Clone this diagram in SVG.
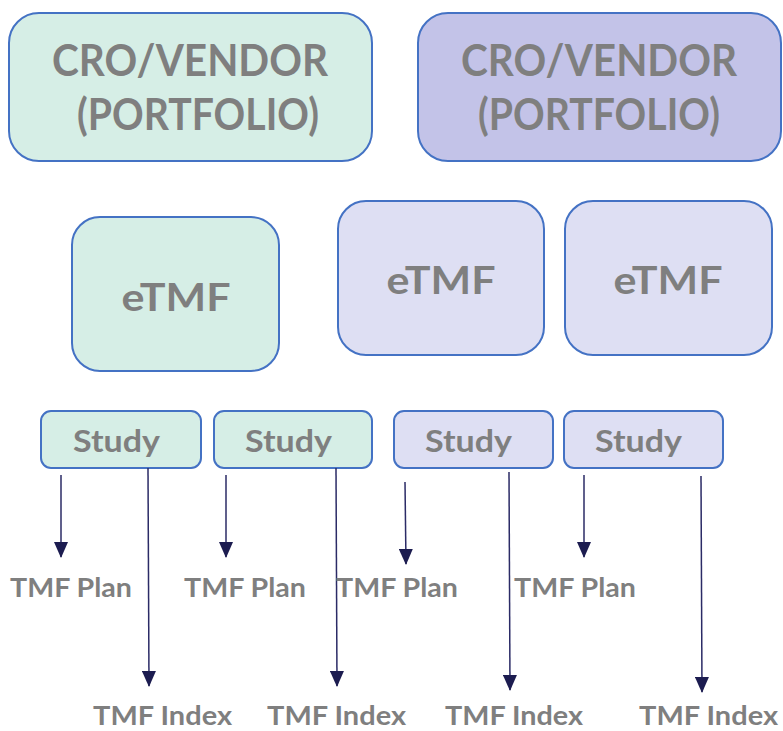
<svg xmlns="http://www.w3.org/2000/svg" width="783" height="731" viewBox="0 0 783 731">
<style>
.t{font-family:Lato,"Open Sans","Liberation Sans",sans-serif;font-weight:bold;fill:#7f7f7f}
.box{stroke:#4472c4;stroke-width:2}
.g{fill:#d6eee6}.p{fill:#c3c3e8}.l{fill:#dedff3}
.c{stroke:#2b2b66;stroke-width:1.5;fill:none}
</style>
<defs>
<marker id="ah" markerWidth="16" markerHeight="14" refX="15" refY="7" orient="auto" markerUnits="userSpaceOnUse" viewBox="0 0 16 14">
<path d="M0,0 L16,7 L0,14 z" fill="#1c1c50"/>
</marker>
</defs>
<rect width="783" height="731" fill="#fff"/>
<g id="cro1"><rect class="box g" x="9" y="13" width="363" height="148" rx="30"/>
<text class="t" x="190" y="76" font-size="43" text-anchor="middle" textLength="276" lengthAdjust="spacingAndGlyphs">CRO/VENDOR</text>
<text class="t" x="198" y="130" font-size="43" text-anchor="middle" textLength="242" lengthAdjust="spacingAndGlyphs">(PORTFOLIO)</text></g>
<g id="cro2"><rect class="box p" x="418" y="13" width="363" height="148" rx="30"/>
<text class="t" x="599" y="76" font-size="43" text-anchor="middle" textLength="276" lengthAdjust="spacingAndGlyphs">CRO/VENDOR</text>
<text class="t" x="599" y="130" font-size="43" text-anchor="middle" textLength="242" lengthAdjust="spacingAndGlyphs">(PORTFOLIO)</text></g>
<g id="etmf1"><rect class="box g" x="72" y="217" width="207" height="154" rx="28"/>
<text class="t" x="176" y="311" font-size="39" text-anchor="middle" textLength="109" lengthAdjust="spacingAndGlyphs">eTMF</text></g>
<g id="etmf2"><rect class="box l" x="338" y="201" width="206" height="154" rx="28"/>
<text class="t" x="441" y="294" font-size="39" text-anchor="middle" textLength="109" lengthAdjust="spacingAndGlyphs">eTMF</text></g>
<g id="etmf3"><rect class="box l" x="565" y="201" width="207" height="154" rx="28"/>
<text class="t" x="668" y="294" font-size="39" text-anchor="middle" textLength="109" lengthAdjust="spacingAndGlyphs">eTMF</text></g>
<g id="study1"><rect class="box g" x="41" y="411" width="160" height="57" rx="10"/>
<text class="t" x="73" y="452" font-size="31" textLength="87" lengthAdjust="spacingAndGlyphs">Study</text></g>
<g id="study2"><rect class="box g" x="214" y="411" width="158" height="57" rx="10"/>
<text class="t" x="245" y="452" font-size="31" textLength="87" lengthAdjust="spacingAndGlyphs">Study</text></g>
<g id="study3"><rect class="box l" x="394" y="411" width="159" height="57" rx="10"/>
<text class="t" x="425" y="452" font-size="31" textLength="87" lengthAdjust="spacingAndGlyphs">Study</text></g>
<g id="study4"><rect class="box l" x="564" y="411" width="159" height="57" rx="10"/>
<text class="t" x="595" y="452" font-size="31" textLength="87" lengthAdjust="spacingAndGlyphs">Study</text></g>
<g id="connectors">
<line class="c" x1="61" y1="475" x2="61" y2="557" marker-end="url(#ah)"/>
<line class="c" x1="148" y1="468" x2="149" y2="686" marker-end="url(#ah)"/>
<line class="c" x1="226" y1="475" x2="226" y2="557" marker-end="url(#ah)"/>
<line class="c" x1="336" y1="468" x2="337" y2="686" marker-end="url(#ah)"/>
<line class="c" x1="405" y1="482" x2="406" y2="564" marker-end="url(#ah)"/>
<line class="c" x1="509" y1="472" x2="510" y2="690" marker-end="url(#ah)"/>
<line class="c" x1="584" y1="475" x2="584" y2="557" marker-end="url(#ah)"/>
<line class="c" x1="701" y1="476" x2="702" y2="692" marker-end="url(#ah)"/>
</g>
<g id="plan1"><text class="t" x="10" y="597" font-size="27" textLength="122" lengthAdjust="spacingAndGlyphs">TMF Plan</text></g>
<g id="plan2"><text class="t" x="184" y="597" font-size="27" textLength="122" lengthAdjust="spacingAndGlyphs">TMF Plan</text></g>
<g id="plan3"><text class="t" x="336" y="597" font-size="27" textLength="122" lengthAdjust="spacingAndGlyphs">TMF Plan</text></g>
<g id="plan4"><text class="t" x="514" y="597" font-size="27" textLength="122" lengthAdjust="spacingAndGlyphs">TMF Plan</text></g>
<g id="index1"><text class="t" x="93" y="725" font-size="27" textLength="139" lengthAdjust="spacingAndGlyphs">TMF Index</text></g>
<g id="index2"><text class="t" x="267" y="725" font-size="27" textLength="139" lengthAdjust="spacingAndGlyphs">TMF Index</text></g>
<g id="index3"><text class="t" x="445" y="725" font-size="27" textLength="138" lengthAdjust="spacingAndGlyphs">TMF Index</text></g>
<g id="index4"><text class="t" x="639" y="725" font-size="27" textLength="139" lengthAdjust="spacingAndGlyphs">TMF Index</text></g>
</svg>
